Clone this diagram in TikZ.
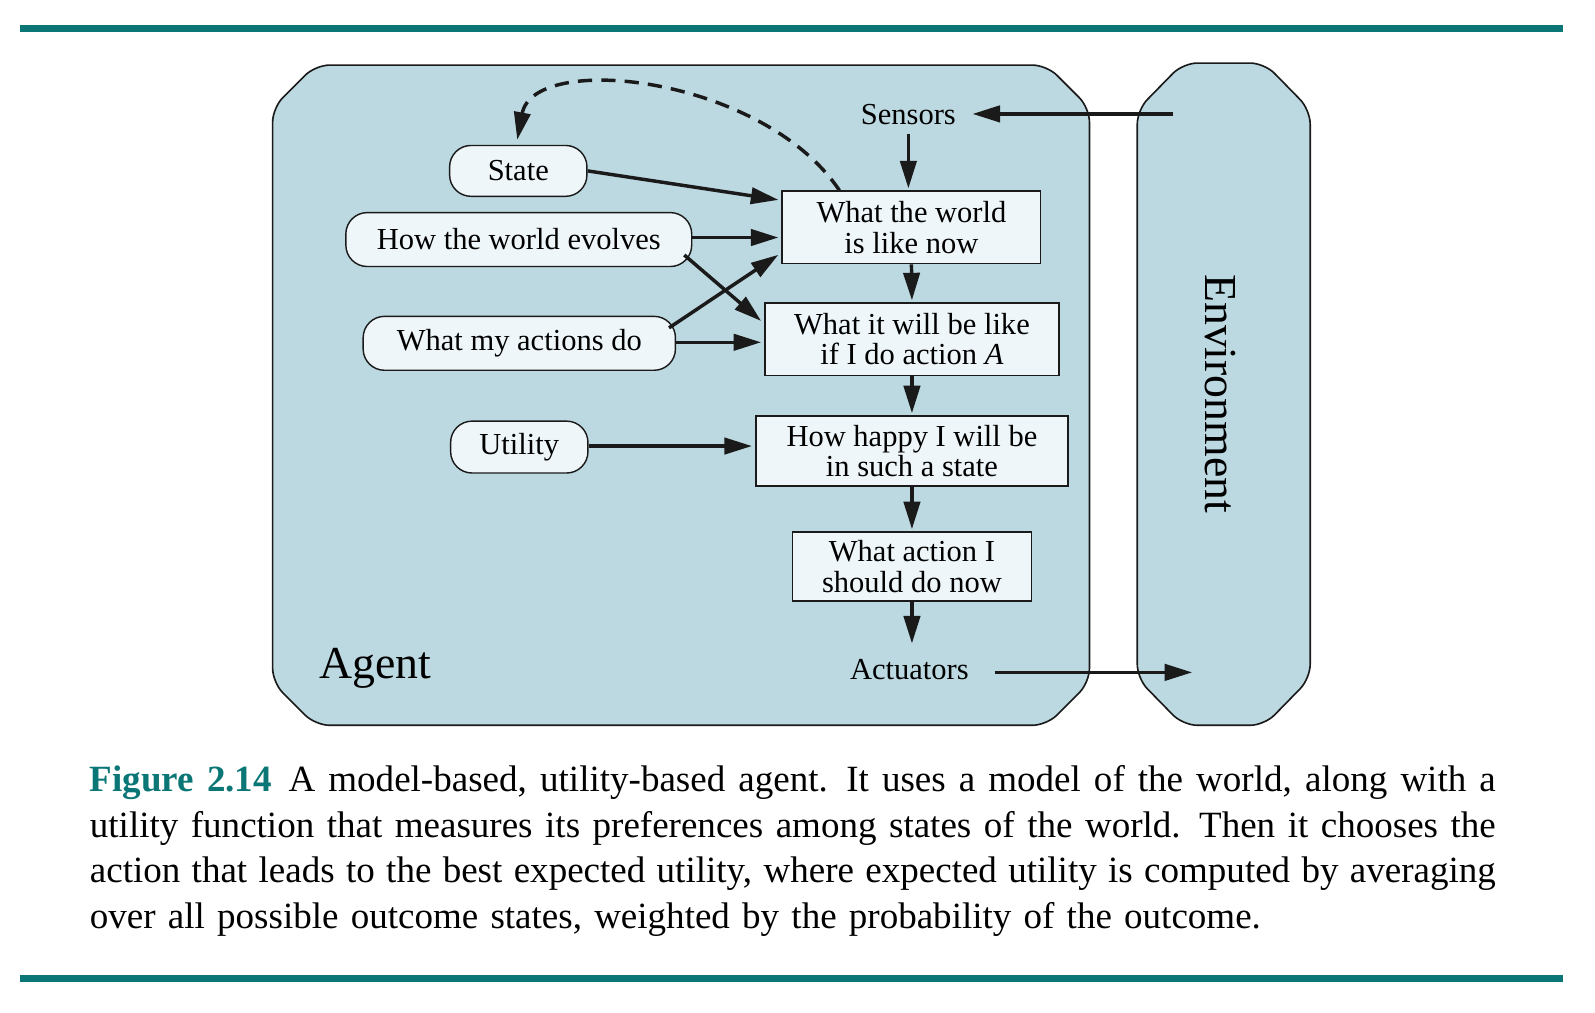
\documentclass[tikz,border=0pt]{standalone}
\usepackage{fontspec}
\setmainfont{Liberation Serif}
\usetikzlibrary{arrows.meta,calc}
\definecolor{agentfill}{HTML}{BCD8E0}
\definecolor{nodefill}{HTML}{EEF6F9}
\definecolor{rulecol}{HTML}{0B7676}
\definecolor{ink}{HTML}{1A1A1A}
\newcommand{\capspace}{\spaceskip=0.33em plus 0.3em minus 0.1em\relax}
\begin{document}
\begin{tikzpicture}[x=0.5pt,y=-0.5pt,
  boxfont/.style={font=\fontsize{15}{15}\selectfont},
  bigfont/.style={font=\fontsize{22.5}{22.5}\selectfont},
  pill/.style={draw=ink, fill=nodefill, rounded corners=10.5pt, line width=0.7pt, inner sep=0pt, boxfont},
  sq/.style={draw=ink, fill=nodefill, line width=0.8pt, inner sep=0pt, align=center, boxfont},
  region/.style={draw=ink, fill=agentfill, line width=0.8pt, rounded corners=7pt},
  arr/.style={-{Triangle[length=13.5pt,width=8pt]}, line width=1.7pt, draw=ink},
  dasharr/.style={arr, dash pattern=on 7pt off 4.5pt},
  rulebar/.style={draw=rulecol, line width=3.2pt}
]
\useasboundingbox (0,0) rectangle (1568,995);
% rules
\coordinate (r1a) at (20,28); \coordinate (r1b) at (1537,28);
\coordinate (r2a) at (20,962); \coordinate (r2b) at (1537,962);
\draw[rulebar] (r1a) -- (r1b);
\draw[rulebar] (r2a) -- (r2b);
% agent region
\draw[region] (268,106) -- (310,64) -- (1029,64) -- (1071,106) -- (1071,671) -- (1029,713) -- (310,713) -- (268,671) -- cycle;
% environment region
\draw[region] (1118,108) -- (1163,62) -- (1243,62) -- (1288,108) -- (1288,667) -- (1243,713) -- (1163,713) -- (1118,667) -- cycle;
% labels
\node[bigfont] (agent) at (369,657) {Agent};
\node[bigfont, rotate=-90] (env) at (1200,387) {Environment};
\node[boxfont, inner xsep=8pt, inner ysep=4pt] (sensors) at (893,113) {Sensors};
\node[boxfont, inner xsep=12.5pt, inner ysep=7.5pt] (actuators) at (894,658) {Actuators};
% left nodes
\node[pill, minimum width=67.5pt, minimum height=25pt] (state) at (509.5,168) {State};
\node[pill, minimum width=170pt, minimum height=26.5pt] (evolves) at (510,235.5) {How the world evolves};
\node[pill, minimum width=153.5pt, minimum height=26.5pt] (actions) at (510.5,337.5) {What my actions do};
\node[pill, minimum width=67.5pt, minimum height=25.5pt] (utility) at (510.5,439.5) {Utility};
% right boxes
\node[sq, minimum width=127pt, minimum height=35.5pt] (world) at (896,223.5) {What the world\\is like now};
\node[sq, minimum width=144.5pt, minimum height=35.5pt] (will) at (896.5,333.5) {What it will be like\\if I do action \textit{A}};
\node[sq, minimum width=153.5pt, minimum height=34.5pt] (happy) at (896.5,443.5) {How happy I will be\\in such a state};
\node[sq, minimum width=117.5pt, minimum height=34pt] (action) at (896.5,557) {What action I\\should do now};
% coordinates for free ends
\coordinate (envin) at (1153,112);
\coordinate (envout) at (1172,661);
% arrows
\draw[arr] (envin) -- (sensors.east |- envin);
\draw[arr] (actuators.east |- envout) -- (envout);
\draw[arr] (sensors.south) -- ($(world.north -| sensors.south)+(0,-2)$);
\draw[arr] (world.south) -- ($(will.north)+(0,-2)$);
\draw[arr] (will.south) -- ($(happy.north)+(0,-2)$);
\draw[arr] (happy.south) -- ($(action.north)+(0,-2)$);
\draw[arr] (action.south) -- (actuators.north -| action.south);
\draw[arr] (state.east) -- ($(world.west)+(-3,-27)$);
\draw[arr] ($(evolves.east)+(0,-2)$) -- ($(world.west)+(-3,10)$);
\draw[arr] ($(evolves.south east)+(-8,-12)$) -- ($(will.west)+(-3,-18)$);
\draw[arr] ($(actions.north east)+(-7,12)$) -- ($(world.west)+(-3,27)$);
\draw[arr] ($(actions.east)+(0,-1)$) -- ($(will.west)+(-3,3)$);
\draw[arr] ($(utility.east)+(0,-1)$) -- ($(happy.west)+(-3,-5)$);
\draw[dasharr] ($(world.north west)+(57,0)$) .. controls (750,75) and (525,50) .. ($(state.north)+(-1,-5)$);
% caption
\node[anchor=base west, inner sep=0pt, text width=691pt, align=left, font=\fontsize{18.2}{22.5}\selectfont] (caption) at (88,778) {\capspace
\makebox[691pt][s]{\textcolor{rulecol}{\textbf{Figure 2.14}}\hspace{0.45em}A model-based, utility-based agent. It uses a model of the world, along with a}\\
\makebox[691pt][s]{utility function that measures its preferences among states of the world. Then it chooses the}\\
\makebox[691pt][s]{action that leads to the best expected utility, where expected utility is computed by averaging}\\
over all possible outcome states, weighted by the probability of the outcome.};
\end{tikzpicture}
\end{document}
